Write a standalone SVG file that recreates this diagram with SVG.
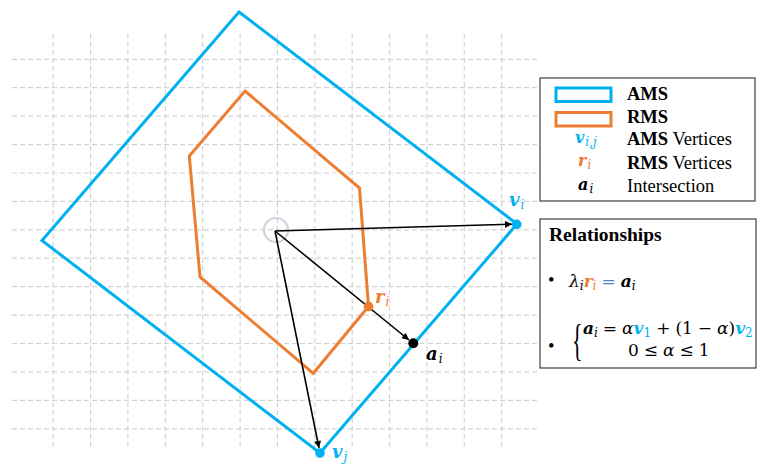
<svg xmlns="http://www.w3.org/2000/svg" width="757" height="464" viewBox="0 0 757 464">
<defs>
<marker id="arr" viewBox="0 0 10 10" refX="10" refY="5" markerWidth="9" markerHeight="7" markerUnits="userSpaceOnUse" orient="auto">
<path d="M0,0 L10,5 L0,10 z" fill="#000"/>
</marker>
</defs>
<style>
.grid line{stroke:#d3d3d3;stroke-width:1.2;stroke-dasharray:5 3}
.ams{fill:none;stroke:#00B0F0;stroke-width:3;stroke-linejoin:miter}
.rms{fill:none;stroke:#ED7D31;stroke-width:3;stroke-linejoin:miter}
.conn line{stroke:#000;stroke-width:1.6;marker-end:url(#arr)}
.box{fill:#fff;stroke:#404040;stroke-width:1.2}
.t{font-family:"Liberation Serif","Times New Roman",serif;font-size:18.5px;fill:#000}
.h{font-family:"Liberation Serif","Times New Roman",serif;font-size:19.5px;font-weight:bold;fill:#000}
.m{font-family:"DejaVu Serif","Liberation Serif",serif;font-style:italic;fill:#000}
.lbl{font-size:18px}
.lg{font-size:16px}
.eq{font-size:17px}
.b{font-weight:bold}
.n{font-style:normal}
.blue{fill:#00B0F0}
.org{fill:#ED7D31}
.sub{font-size:12px;font-weight:normal}
.brace{font-family:"Liberation Serif",serif;font-size:44px;fill:#000}
</style>
<rect width="757" height="464" fill="#fff"/>
<g class="grid">
<line x1="12" y1="59.3" x2="538" y2="59.3"/>
<line x1="12" y1="87.7" x2="538" y2="87.7"/>
<line x1="12" y1="116.1" x2="538" y2="116.1"/>
<line x1="12" y1="144.6" x2="538" y2="144.6"/>
<line x1="12" y1="173" x2="538" y2="173"/>
<line x1="12" y1="201.4" x2="538" y2="201.4"/>
<line x1="12" y1="229.8" x2="538" y2="229.8"/>
<line x1="12" y1="258.2" x2="538" y2="258.2"/>
<line x1="12" y1="286.7" x2="538" y2="286.7"/>
<line x1="12" y1="315.1" x2="538" y2="315.1"/>
<line x1="12" y1="343.5" x2="538" y2="343.5"/>
<line x1="12" y1="371.9" x2="538" y2="371.9"/>
<line x1="12" y1="400.3" x2="538" y2="400.3"/>
<line x1="12" y1="428.8" x2="538" y2="428.8"/>
<line x1="53.2" y1="34" x2="53.2" y2="450"/>
<line x1="90.6" y1="34" x2="90.6" y2="450"/>
<line x1="127.9" y1="34" x2="127.9" y2="450"/>
<line x1="165.3" y1="34" x2="165.3" y2="450"/>
<line x1="202.7" y1="34" x2="202.7" y2="450"/>
<line x1="240.1" y1="34" x2="240.1" y2="450"/>
<line x1="277.4" y1="34" x2="277.4" y2="450"/>
<line x1="314.8" y1="34" x2="314.8" y2="450"/>
<line x1="352.2" y1="34" x2="352.2" y2="450"/>
<line x1="389.5" y1="34" x2="389.5" y2="450"/>
<line x1="426.9" y1="34" x2="426.9" y2="450"/>
<line x1="464.3" y1="34" x2="464.3" y2="450"/>
<line x1="501.6" y1="34" x2="501.6" y2="450"/>
</g>
<g id="ams">
<polygon class="ams" points="239,12 517,224 320,453 42,240.5"/>
</g>
<g id="rms">
<polygon class="rms" points="245,91 359.5,188 368.5,306.5 313.3,373.3 200,277 189.3,156"/>
</g>
<g id="origin">
<circle cx="276" cy="230" r="12" fill="none" stroke="#cdd3df" stroke-width="2.2"/>
</g>
<g class="conn" id="connectors">
<line x1="275" y1="231" x2="512" y2="224.2"/>
<line x1="275" y1="231" x2="409" y2="340"/>
<line x1="275" y1="231" x2="319" y2="448"/>
</g>
<g id="v_i">
<circle cx="516.7" cy="224.3" r="4.8" fill="#00B0F0"/>
<text class="m b blue lbl" x="509" y="206">v<tspan class="sub" dx="1" dy="3">i</tspan></text>
</g>
<g id="v_j">
<circle cx="320" cy="453" r="4.8" fill="#00B0F0"/>
<text class="m b blue lbl" x="332" y="458">v<tspan class="sub" dx="1" dy="3">j</tspan></text>
</g>
<g id="r_i">
<circle cx="368.5" cy="306.5" r="4.8" fill="#ED7D31"/>
<text class="m b org lbl" x="375" y="303">r<tspan class="sub" dx="1" dy="3">i</tspan></text>
</g>
<g id="a_i">
<circle cx="413.3" cy="343.3" r="5" fill="#000"/>
<text class="m b lbl" x="426" y="360">a<tspan class="sub" dx="1" dy="3">i</tspan></text>
</g>
<g id="legend">
<rect class="box" x="540" y="78" width="215" height="123"/>
<rect x="556" y="88" width="55" height="13.5" fill="none" stroke="#00B0F0" stroke-width="3"/>
<rect x="556" y="112.5" width="55" height="13.5" fill="none" stroke="#ED7D31" stroke-width="3"/>
<text class="t b" x="627" y="100">AMS</text>
<text class="t b" x="627" y="123">RMS</text>
<text class="t" x="627" y="145"><tspan font-weight="bold">AMS</tspan> Vertices</text>
<text class="t" x="627" y="168.5"><tspan font-weight="bold">RMS</tspan> Vertices</text>
<text class="t" x="627" y="192">Intersection</text>
<text class="m b blue lg" x="575" y="143">v<tspan class="sub" dx="1" dy="3">i,j</tspan></text>
<text class="m b org lg" x="578" y="166">r<tspan class="sub" dx="1" dy="3">i</tspan></text>
<text class="m b lg" x="578" y="190">a<tspan class="sub" dx="1" dy="3">i</tspan></text>
</g>
<g id="relationships">
<rect class="box" x="540" y="219" width="216" height="149"/>
<text class="h" x="549" y="241">Relationships</text>
<text class="t" x="548" y="286">•</text>
<text class="m eq" x="569" y="287">λ<tspan class="sub" dy="3">i</tspan><tspan class="b org" dy="-3">r</tspan><tspan class="sub org" dy="3">i</tspan><tspan class="n" fill="#4f7fd0" dy="-3" dx="5">=</tspan><tspan class="b" dx="5">a</tspan><tspan class="sub" dy="3">i</tspan></text>
<text class="t" x="548" y="352">•</text>
<text class="brace" x="572" y="355" transform="translate(572 344) scale(0.5 1) translate(-572 -344)">{</text>
<text class="m eq" x="583" y="334"><tspan class="b">a</tspan><tspan class="sub" dy="3">i</tspan><tspan class="n" dy="-3" dx="5">=</tspan><tspan dx="5">α</tspan><tspan class="b blue">v</tspan><tspan class="sub blue n" dy="3">1</tspan><tspan class="n" dy="-3" dx="5">+</tspan><tspan class="n" dx="5">(1</tspan><tspan class="n" dx="5">−</tspan><tspan dx="5">α</tspan><tspan class="n">)</tspan><tspan class="b blue">v</tspan><tspan class="sub blue n" dy="3">2</tspan></text>
<text class="m eq" x="628" y="356"><tspan class="n">0</tspan><tspan class="n" dx="5">≤</tspan><tspan dx="5">α</tspan><tspan class="n" dx="5">≤</tspan><tspan class="n" dx="5">1</tspan></text>
</g>
</svg>
